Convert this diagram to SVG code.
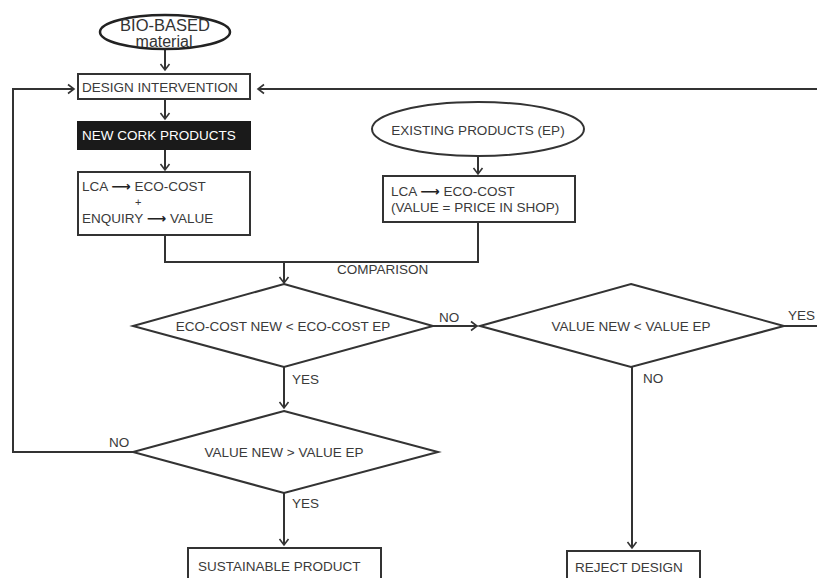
<svg xmlns="http://www.w3.org/2000/svg" width="817" height="578" viewBox="0 0 817 578">
<style>
  .ln{fill:none;stroke:#333;stroke-width:2}
  .bx{fill:#fff;stroke:#333;stroke-width:2}
  .t{font-family:"Liberation Sans",Arial,sans-serif;font-size:13.5px;fill:#3a3a3a}
  .c{text-anchor:middle}
  .arw{font-family:"DejaVu Sans",sans-serif;font-weight:bold;fill:#222}
</style>
<defs>
  <marker id="ar" markerWidth="12" markerHeight="12" refX="9" refY="6" orient="auto" markerUnits="userSpaceOnUse">
    <path d="M3,1.5 L9,6 L3,10.5" fill="none" stroke="#333" stroke-width="1.6"/>
  </marker>
</defs>
<rect width="817" height="578" fill="#fff"/>

<g id="connectors">
  <path class="ln" d="M165,50 V70" marker-end="url(#ar)"/>
  <path class="ln" d="M165,99 V119" marker-end="url(#ar)"/>
  <path class="ln" d="M165,149 V170" marker-end="url(#ar)"/>
  <path class="ln" d="M478,156 V174" marker-end="url(#ar)"/>
  <path class="ln" d="M165,235 V262 H478 V222"/>
  <path class="ln" d="M284,262 V283" marker-end="url(#ar)"/>
  <path class="ln" d="M433,326 H477" marker-end="url(#ar)"/>
  <path class="ln" d="M784,326 H817"/>
  <path class="ln" d="M817,89 H258" marker-end="url(#ar)"/>
  <path class="ln" d="M284,367 V408" marker-end="url(#ar)"/>
  <path class="ln" d="M133,452 H13 V89 H74" marker-end="url(#ar)"/>
  <path class="ln" d="M284,493 V545" marker-end="url(#ar)"/>
  <path class="ln" d="M632,367 V548" marker-end="url(#ar)"/>
  <text class="t" x="337" y="274">COMPARISON</text>
  <text class="t" x="439" y="322">NO</text>
  <text class="t" x="788" y="320">YES</text>
  <text class="t" x="643" y="383">NO</text>
  <text class="t" x="292" y="384">YES</text>
  <text class="t" x="109" y="447">NO</text>
  <text class="t" x="292" y="508">YES</text>
</g>

<g id="bio-based">
  <ellipse cx="165" cy="32" rx="65" ry="17" fill="#fff" stroke="#222" stroke-width="2.5"/>
  <text class="t c" x="165" y="31" style="font-size:16.5px;fill:#333">BIO-BASED</text>
  <text class="t c" x="164" y="47" style="font-size:16px;fill:#333">material</text>
</g>

<g id="design-intervention">
  <rect class="bx" x="78" y="74" width="172" height="25"/>
  <text class="t" x="82" y="92">DESIGN INTERVENTION</text>
</g>

<g id="new-cork-products">
  <rect x="78" y="122" width="172" height="27" fill="#1a1a1a" stroke="#1a1a1a" stroke-width="2"/>
  <text class="t" x="82" y="140" style="fill:#fff">NEW CORK PRODUCTS</text>
</g>

<g id="lca-new">
  <rect class="bx" x="78" y="172" width="172" height="63"/>
  <text class="t" x="82" y="191">LCA <tspan class="arw">⟶</tspan> ECO-COST</text>
  <text class="t" x="135" y="206" style="font-size:11px">+</text>
  <text class="t" x="82" y="223">ENQUIRY <tspan class="arw">⟶</tspan> VALUE</text>
</g>

<g id="existing-products">
  <ellipse class="bx" cx="478" cy="129" rx="106" ry="27"/>
  <text class="t c" x="478" y="135">EXISTING PRODUCTS (EP)</text>
</g>

<g id="lca-ep">
  <rect class="bx" x="383" y="176" width="192" height="46"/>
  <text class="t" x="391" y="196">LCA <tspan class="arw">⟶</tspan> ECO-COST</text>
  <text class="t" x="391" y="212">(VALUE = PRICE IN SHOP)</text>
</g>

<g id="eco-cost-decision">
  <polygon class="bx" points="284,284 433,326 284,367 133,326"/>
  <text class="t c" x="283" y="331">ECO-COST NEW &lt; ECO-COST EP</text>
</g>

<g id="value-less-decision">
  <polygon class="bx" points="631,284 784,326 631,367 480,326"/>
  <text class="t c" x="631" y="331">VALUE NEW &lt; VALUE EP</text>
</g>

<g id="value-greater-decision">
  <polygon class="bx" points="284,411 438,452 284,493 133,452"/>
  <text class="t c" x="284" y="457">VALUE NEW &gt; VALUE EP</text>
</g>

<g id="sustainable-product">
  <rect class="bx" x="188" y="548" width="193" height="40"/>
  <text class="t" x="198" y="571">SUSTAINABLE PRODUCT</text>
</g>

<g id="reject-design">
  <rect class="bx" x="567" y="551" width="133" height="40"/>
  <text class="t" x="575" y="572">REJECT DESIGN</text>
</g>
</svg>
